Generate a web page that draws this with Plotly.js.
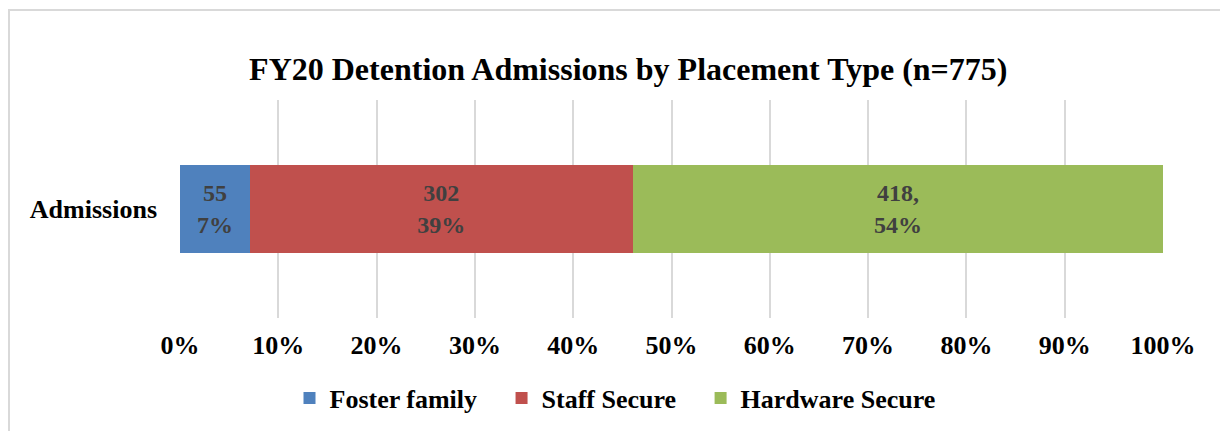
<!DOCTYPE html>
<html>
<head>
<meta charset="utf-8">
<script src="https://cdn.plot.ly/plotly-3.0.1.min.js"></script>
<style>
html,body{margin:0;padding:0;background:#fff;overflow:hidden;}
#chart{width:1220px;height:431px;}
#frame{position:absolute;left:8px;top:9px;width:1400px;height:600px;border:2px solid #d9d9d9;pointer-events:none;}
</style>
</head>
<body>
<div id="chart"></div>
<div id="frame"></div>
<script>
const categories = ['Admissions'];
const seriesNames = ['Foster family', 'Staff Secure', 'Hardware Secure'];
const counts = [55, 302, 418];
const percentLabels = ['7%', '39%', '54%'];
const countLabels = ['55', '302', '418,'];
const colors = ['#4F81BD', '#C0504D', '#9BBB59'];
const tickVals = [0,10,20,30,40,50,60,70,80,90,100];
const tickText = ['0%','10%','20%','30%','40%','50%','60%','70%','80%','90%','100%'];

const font = '"Liberation Serif", "Times New Roman", serif';
const pad = '\u00a0\u00a0\u00a0';

const traces = seriesNames.map((name, i) => ({
  type: 'bar',
  orientation: 'h',
  name: '<b>' + name + '</b>' + (i < seriesNames.length - 1 ? pad : ''),
  y: categories,
  x: [counts[i]],
  text: ['<b>' + countLabels[i] + '<br>' + percentLabels[i] + '</b>'],
  textposition: 'inside',
  insidetextanchor: 'middle',
  textangle: 0,
  textfont: {family: font, size: 24, color: '#404040'},
  marker: {color: colors[i]},
  hoverinfo: 'none'
}));

const layout = {
  width: 1220, height: 431,
  margin: {l: 180, r: 57, t: 100, b: 113},
  paper_bgcolor: '#fff', plot_bgcolor: '#fff',
  barmode: 'stack',
  barnorm: 'percent',
  bargap: 0.6,
  font: {family: font, color: '#000'},
  title: {
    text: '<b>FY20 Detention Admissions by Placement Type (n=775)</b>',
    font: {family: font, size: 32, color: '#000'},
    x: 0.515, xref: 'container', xanchor: 'center',
    y: 1 - 69/431, yref: 'container', yanchor: 'middle'
  },
  xaxis: {
    range: [0, 100],
    tickvals: tickVals, ticktext: tickText.map(t => '<b>' + t + '</b>'),
    tickfont: {family: font, size: 26, color: '#000'},
    showgrid: true, gridcolor: '#d9d9d9', gridwidth: 2,
    zeroline: false, showline: false,
    ticks: '', ticklabelstandoff: 9,
    fixedrange: true
  },
  yaxis: {
    tickvals: categories, ticktext: categories.map(c => '<b>' + c + '</b>'),
    tickfont: {family: font, size: 26, color: '#000'},
    showgrid: false, zeroline: false, showline: false,
    ticks: '', ticklabelstandoff: 22,
    fixedrange: true
  },
  showlegend: true,
  legend: {
    orientation: 'h', traceorder: 'normal',
    x: 615/1220, xref: 'container', xanchor: 'center',
    y: 1 - 398/431, yref: 'container', yanchor: 'middle',
    font: {family: font, size: 26, color: '#000'},
    itemwidth: 30, tracegroupgap: 0
  }
};

Plotly.newPlot('chart', traces, layout, {displayModeBar: false, staticPlot: true});
</script>
</body>
</html>
